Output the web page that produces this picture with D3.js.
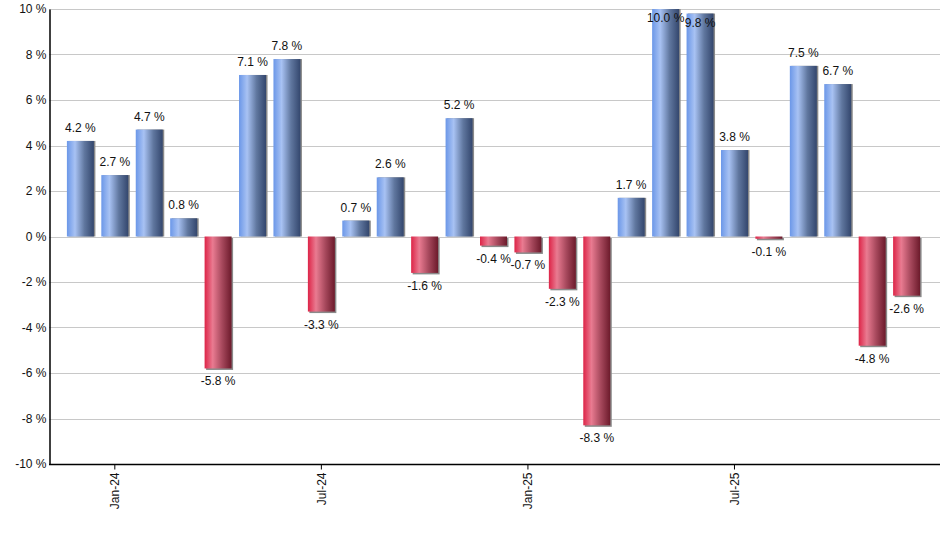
<!DOCTYPE html>
<html>
<head>
<meta charset="utf-8">
<script src="https://cdn.jsdelivr.net/npm/d3@7"></script>
<style>
  body { margin: 0; background: #fff; }
  text { font-family: "Liberation Sans", Arial, sans-serif; }
</style>
</head>
<body>
<svg id="chart"></svg>
<script>
// monthly returns, Dec-23 .. Dec-25
const months = ['Dec-23', 'Jan-24', 'Feb-24', 'Mar-24', 'Apr-24', 'May-24', 'Jun-24', 'Jul-24', 'Aug-24',
    'Sep-24', 'Oct-24', 'Nov-24', 'Dec-24', 'Jan-25', 'Feb-25', 'Mar-25', 'Apr-25', 'May-25', 'Jun-25',
    'Jul-25', 'Aug-25', 'Sep-25', 'Oct-25', 'Nov-25', 'Dec-25'];
const returns = [4.2, 2.7, 4.7, 0.8, -5.8, 7.1, 7.8, -3.3, 0.7, 2.6, -1.6, 5.2, -0.4, -0.7, -2.3, -8.3,
    1.7, 10.0, 9.8, 3.8, -0.1, 7.5, 6.7, -4.8, -2.6];
const tickMonths = ['Jan-24', 'Jul-24', 'Jan-25', 'Jul-25'];
const yTicks = [-10, -8, -6, -4, -2, 0, 2, 4, 6, 8, 10];

const width = 940;
const height = 550;
const margin = { top: 9, right: 2, bottom: 86, left: 49 };

const svg = d3.select('#chart')
    .attr('width', width)
    .attr('height', height);

// gradients for the bars
const defs = svg.append('defs');
function addGradient(id, stops) {
    const g = defs.append('linearGradient')
        .attr('id', id)
        .attr('x1', '0%').attr('x2', '100%')
        .attr('y1', '0%').attr('y2', '0%');
    stops.forEach(s => g.append('stop').attr('offset', s[0]).attr('stop-color', s[1]));
}
addGradient('gradBlue', [['0%', '#6b97e8'], ['30%', '#a8c2f3'], ['65%', '#60779f'], ['100%', '#33466d']]);
addGradient('gradRed', [['0%', '#dd2447'], ['30%', '#e97b91'], ['65%', '#a6485c'], ['100%', '#6c1a2b']]);

const x = d3.scaleBand()
    .domain(months)
    .range([margin.left, width - margin.right])
    .paddingInner(0.216)
    .paddingOuter(0.52);

const y = d3.scaleLinear()
    .domain([-10, 10])
    .range([height - margin.bottom, margin.top]);

// grid lines
svg.append('g')
    .selectAll('line')
    .data(yTicks)
    .enter().append('line')
    .attr('x1', margin.left)
    .attr('x2', width)
    .attr('y1', d => Math.round(y(d)) + 0.5)
    .attr('y2', d => Math.round(y(d)) + 0.5)
    .style('stroke', '#c8c8c8')
    .style('stroke-width', 1);

// bars with a little shadow
const bars = svg.append('g')
    .selectAll('g')
    .data(returns)
    .enter().append('g');

bars.append('rect')
    .attr('x', (d, i) => x(months[i]) + 1.5)
    .attr('y', d => Math.min(y(d), y(0)) + (d < 0 ? 1.5 : 0))
    .attr('width', x.bandwidth())
    .attr('height', d => Math.abs(y(d) - y(0)))
    .style('fill', '#8a8a8a');

bars.append('rect')
    .attr('x', (d, i) => x(months[i]))
    .attr('y', d => Math.min(y(d), y(0)))
    .attr('width', x.bandwidth())
    .attr('height', d => Math.abs(y(d) - y(0)))
    .style('fill', d => d >= 0 ? 'url(#gradBlue)' : 'url(#gradRed)');

// value labels
bars.append('text')
    .attr('x', (d, i) => x(months[i]) + x.bandwidth() / 2)
    .attr('y', d => {
        if (d >= 0) {
            const ly = y(d) - 9;
            return ly < margin.top + 12 ? y(d) + 13 : ly;
        }
        return y(d) + 17;
    })
    .attr('text-anchor', 'middle')
    .style('font-size', '12px')
    .style('fill', '#111')
    .text(d => `${d.toFixed(1)} %`);

// y axis
const yAxis = svg.append('g')
    .attr('transform', `translate(${margin.left + 0.5},0)`)
    .call(d3.axisLeft(y).tickValues(yTicks).tickSize(0).tickPadding(3).tickFormat(d => `${d} %`));
yAxis.select('.domain').style('stroke', '#000').style('stroke-width', 1.5);
yAxis.selectAll('text')
    .style('font-size', '12px')
    .style('fill', '#111')
    .style('font-family', '"Liberation Sans", Arial, sans-serif');

// x axis
const xAxis = svg.append('g')
    .attr('transform', `translate(0,${Math.round(y(-10)) + 0.5})`)
    .call(d3.axisBottom(x).tickValues(tickMonths).tickSize(5).tickSizeOuter(0));
xAxis.select('.domain')
    .attr('d', `M${margin.left},0H${width}`)
    .style('stroke', '#000').style('stroke-width', 1.5);
xAxis.selectAll('.tick line').style('stroke', '#000');
xAxis.selectAll('text')
    .attr('transform', 'rotate(-90)')
    .attr('x', -8)
    .attr('y', 0)
    .attr('dy', '0.35em')
    .attr('text-anchor', 'end')
    .style('font-size', '12px')
    .style('fill', '#111')
    .style('font-family', '"Liberation Sans", Arial, sans-serif');
</script>
</body>
</html>
